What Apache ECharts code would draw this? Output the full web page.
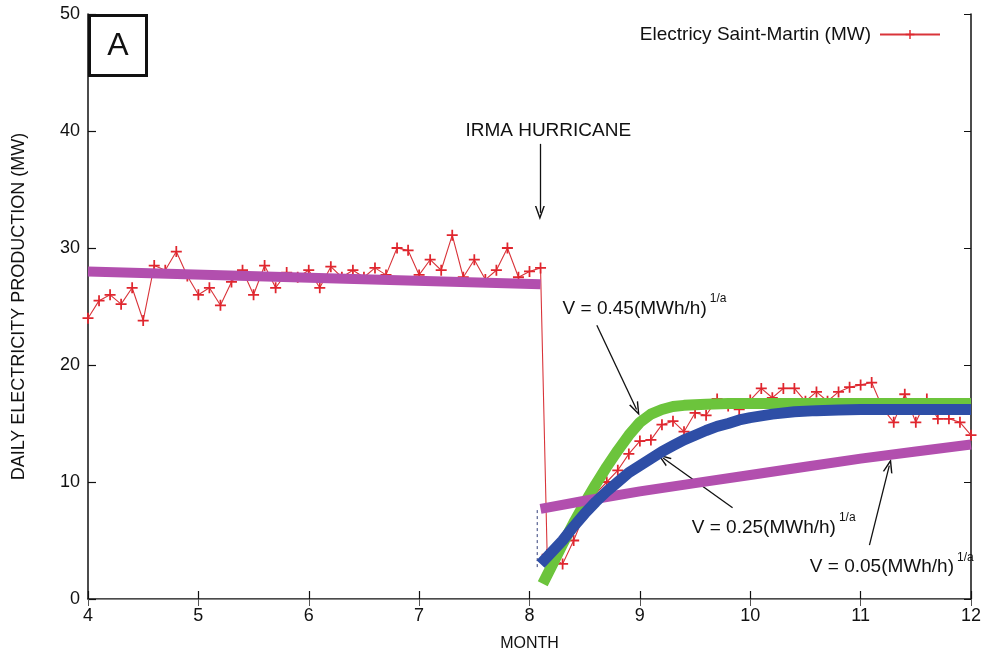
<!DOCTYPE html>
<html><head><meta charset="utf-8">
<script src="https://cdn.jsdelivr.net/npm/echarts/dist/echarts.min.js"></script>
<style>html,body{margin:0;padding:0;background:#fff}#c{width:985px;height:661px}</style>
</head><body><div id="c"></div>
<script>
// ---- data ----
const months = [4.0,4.1,4.2,4.3,4.4,4.5,4.6,4.7,4.8,4.9,5.0,5.1,5.2,5.3,5.4,5.5,5.6,5.7,5.8,5.9,
  6.0,6.1,6.2,6.3,6.4,6.5,6.6,6.7,6.8,6.9,7.0,7.1,7.2,7.3,7.4,7.5,7.6,7.7,7.8,7.9,8.0,8.1,
  8.16,8.3,8.4,8.5,8.6,8.7,8.8,8.9,9.0,9.1,9.2,9.3,9.4,9.5,9.6,9.7,9.8,9.9,
  10.0,10.1,10.2,10.3,10.4,10.5,10.6,10.7,10.8,10.9,11.0,11.1,11.2,11.3,11.4,11.5,11.6,11.7,11.8,11.9,12.0];
const production = [24.0,25.5,26.0,25.2,26.6,23.8,28.5,28.1,29.7,27.6,
  26.0,26.6,25.1,27.1,28.1,26.0,28.5,26.6,27.9,27.5,
  28.1,26.6,28.4,27.5,28.1,27.5,28.3,27.7,30.0,29.8,
  27.7,29.0,28.1,31.1,27.5,29.0,27.3,28.1,30.0,27.5,
  28.0,28.3,
  3.8,3.0,5.0,7.3,9.0,10.0,11.0,12.4,13.5,13.6,
  14.9,15.2,14.3,15.9,15.7,17.1,16.5,16.2,17.0,18.0,
  17.2,18.0,18.0,16.9,17.7,16.9,17.7,18.1,18.3,18.5,
  16.3,15.1,17.5,15.1,17.1,15.4,15.4,15.1,14.0];

const preFitX = [4.0, 8.1];
const preFitY = [28.0, 26.9];
const fitLowX = [8.1, 8.5, 9.0, 9.5, 10.0, 10.5, 11.0, 11.5, 12.0];
const fitLowY = [7.7, 8.4, 9.2, 9.9, 10.6, 11.3, 12.0, 12.6, 13.2];
const fitMidX = [8.1, 8.2, 8.3, 8.4, 8.5, 8.6, 8.7, 8.8, 8.9, 9.0, 9.1, 9.2, 9.3, 9.4, 9.5, 9.6, 9.7, 9.8, 9.9, 10.0, 10.2, 10.4, 10.6, 10.8, 11.0, 11.5, 12.0];
const fitMidY = [3.0, 4.0, 5.0, 6.2, 7.3, 8.3, 9.2, 10.0, 10.8, 11.4, 12.0, 12.6, 13.1, 13.6, 14.0, 14.4, 14.75, 15.0, 15.3, 15.5, 15.8, 16.0, 16.1, 16.15, 16.2, 16.2, 16.2];
const fitHighX = [8.12, 8.2, 8.3, 8.4, 8.5, 8.6, 8.7, 8.8, 8.9, 9.0, 9.1, 9.2, 9.3, 9.4, 9.6, 9.8, 10.0, 11.0, 12.0];
const fitHighY = [1.3, 2.8, 4.7, 6.5, 8.2, 9.8, 11.3, 12.7, 14.0, 15.1, 15.8, 16.2, 16.45, 16.55, 16.65, 16.7, 16.7, 16.7, 16.7];
const dropLineX = [8.07, 8.07];
const dropLineY = [7.6, 2.5];

const xTicks = {min: 4, max: 12, step: 1};
const yTicks = {min: 0, max: 50, step: 10};

const seriesName = 'Electricy Saint-Martin (MW)';
const xName = 'MONTH';
const yName = 'DAILY ELECTRICITY PRODUCTION (MW)';
const panelLabel = 'A';

const notes = [
  {text: 'IRMA HURRICANE', sup: '', at: [8.17, 40.0], align: 'center'},
  {text: 'V = 0.45(MWh/h)', sup: '1/a', at: [8.30, 25.0], align: 'left'},
  {text: 'V = 0.25(MWh/h)', sup: '1/a', at: [9.47, 6.3], align: 'left'},
  {text: 'V = 0.05(MWh/h)', sup: '1/a', at: [10.54, 2.9], align: 'left'}
];
const arrows = [
  [[8.094, 38.9], [8.094, 33.0]],
  [[8.61, 23.4], [8.97, 16.2]],
  [[9.84, 7.8], [9.21, 12.05]],
  [[11.08, 4.6], [11.26, 11.4]]
];

// ---- chart ----
const zip = (xs, ys) => xs.map((x, i) => [x, ys[i]]);
const FONT = '"Liberation Sans", Arial, sans-serif';
const plus = 'path://M4.2,0 h1.6 v10 h-1.6 z M0,4.2 h10 v1.6 h-10 z';
const chev = 'path://M5,0 L10,12 L8.5,12 L5,3.6 L1.5,12 L0,12 Z';

const chart = echarts.init(document.getElementById('c'), null, {renderer: 'canvas'});

const fitLine = (name, xs, ys, color, w, z, extra) => Object.assign({
  name, type: 'line', data: zip(xs, ys), showSymbol: false, symbol: 'none',
  smooth: false, z,
  lineStyle: {color, width: w, cap: 'butt', join: 'round'}, silent: true, animation: false
}, extra || {});

chart.setOption({
  animation: false,
  backgroundColor: '#fff',
  textStyle: {fontFamily: FONT},
  grid: {left: 88, right: 14, top: 14, bottom: 62, containLabel: false},
  legend: {
    data: [seriesName], right: 39, top: 20, align: 'right',
    itemWidth: 60, itemHeight: 11, itemGap: 8,
    textStyle: {fontSize: 19, color: '#111', fontFamily: FONT, padding: [0, 4, 0, 0]}
  },
  xAxis: [
    {type: 'value', min: xTicks.min, max: xTicks.max, interval: xTicks.step, position: 'bottom',
     name: xName, nameLocation: 'middle', nameGap: 37,
     nameTextStyle: {fontSize: 16, color: '#111', fontFamily: FONT},
     axisLine: {lineStyle: {color: '#111', width: 1.5}},
     axisTick: {inside: true, length: 8, lineStyle: {color: '#111', width: 1.2}},
     axisLabel: {fontSize: 18, color: '#111', margin: 8, fontFamily: FONT},
     splitLine: {show: false}},
    {type: 'value', min: xTicks.min, max: xTicks.max, interval: xTicks.step, position: 'top',
     axisLine: {lineStyle: {color: '#888', width: 1.2}},
     axisTick: {inside: true, length: 7, lineStyle: {color: '#555'}},
     axisLabel: {show: false}, splitLine: {show: false}}
  ],
  yAxis: [
    {type: 'value', min: yTicks.min, max: yTicks.max, interval: yTicks.step, position: 'left',
     name: yName, nameLocation: 'middle', nameGap: 60, nameRotate: 90,
     nameTextStyle: {fontSize: 18, color: '#111', fontFamily: FONT},
     axisLine: {lineStyle: {color: '#111', width: 1.5}},
     axisTick: {inside: true, length: 8, lineStyle: {color: '#111', width: 1.2}},
     axisLabel: {fontSize: 18, color: '#111', margin: 8, fontFamily: FONT},
     splitLine: {show: false}},
    {type: 'value', min: yTicks.min, max: yTicks.max, interval: yTicks.step, position: 'right',
     axisLine: {lineStyle: {color: '#111', width: 1.5}},
     axisTick: {inside: true, length: 7, lineStyle: {color: '#111'}},
     axisLabel: {show: false}, splitLine: {show: false}}
  ],
  series: [
    {name: seriesName, type: 'line', data: zip(months, production), z: 2,
     symbol: plus, symbolSize: 11, showSymbol: true,
     itemStyle: {color: '#e0262e'}, lineStyle: {color: '#d9343a', width: 1.1}, animation: false},
    fitLine('drop', dropLineX, dropLineY, '#34407a', 1, 3, {lineStyle: {color: '#34407a', width: 1, type: [3, 3]}}),
    fitLine('fitHigh', fitHighX, fitHighY, '#6cc43c', 11, 4),
    fitLine('preFit', preFitX, preFitY, '#b24fae', 10, 5),
    fitLine('fitLow', fitLowX, fitLowY, '#b24fae', 10, 5),
    fitLine('fitMid', fitMidX, fitMidY, '#2e4ea6', 11, 6, {
      markLine: {
        silent: true, animation: false, symbol: ['none', chev], symbolSize: [10, 14],
        label: {show: false},
        lineStyle: {color: '#111', width: 1.3, type: 'solid'},
        emphasis: {disabled: true},
        data: arrows.map(a => [{coord: a[0]}, {coord: a[1]}])
      }
    })
  ]
});

// annotations anchored on data coordinates
const gfx = notes.map(n => {
  const p = chart.convertToPixel({gridIndex: 0}, n.at);
  const txt = n.sup ? '{m|' + n.text + '}{s|' + n.sup + '}' : '{m|' + n.text + '}';
  return {
    type: 'text', x: p[0], y: p[1] - (n.sup ? 1 : 0), z: 100,
    style: {
      text: txt, align: n.align, verticalAlign: 'middle', fill: '#111',
      fontFamily: FONT,
      rich: {
        m: {fontSize: 19, fontFamily: FONT, fill: '#111', verticalAlign: 'bottom', padding: n.sup ? [6, 0, 0, 0] : 0},
        s: {fontSize: 12, fontFamily: FONT, fill: '#111', verticalAlign: 'top', padding: [0, 0, 0, 3]}
      }
    }
  };
});
gfx.push({
  type: 'group', left: 88, top: 14, z: 100,
  children: [
    {type: 'rect', shape: {x: 0, y: 0, width: 57, height: 60}, style: {fill: '#fff', stroke: '#111', lineWidth: 3}},
    {type: 'text', x: 28.5, y: 31, style: {text: panelLabel, fontSize: 32, fontFamily: FONT, fill: '#111', align: 'center', verticalAlign: 'middle'}}
  ]
});
chart.setOption({graphic: gfx});
</script>
</body></html>
